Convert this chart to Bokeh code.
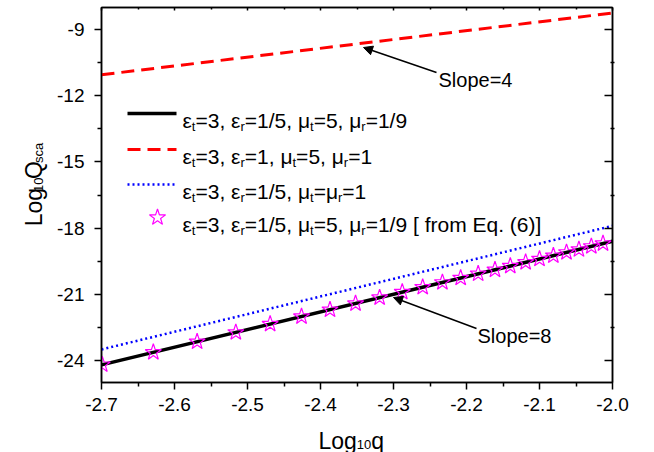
import math
from bokeh.plotting import figure
from bokeh.layouts import column, row
from bokeh.models import (LinearAxis, FixedTicker, Label, Arrow, NormalHead,
                          Range1d, NumeralTickFormatter)
from bokeh.core.properties import value
from bokeh.embed import file_html
from bokeh.resources import INLINE

# ---------------- data ----------------
x_line = [-2.7, -2.0]
y_black = [-24.2, -18.6]     # eps_t=3, eps_r=1/5, mu_t=5, mu_r=1/9
y_red = [-11.05, -8.25]      # eps_t=3, eps_r=1, mu_t=5, mu_r=1
y_blue = [-23.5, -17.9]      # eps_t=3, eps_r=1/5, mu_t=mu_r=1

star_x = [-2.699, -2.629, -2.569, -2.516, -2.469, -2.426, -2.387, -2.352,
          -2.319, -2.288, -2.260, -2.233, -2.208, -2.184, -2.161, -2.140,
          -2.119, -2.100, -2.081, -2.063, -2.046, -2.029, -2.013]
star_y = [-24.19, -23.63, -23.15, -22.73, -22.35, -22.01, -21.70, -21.42,
          -21.15, -20.90, -20.68, -20.46, -20.26, -20.07, -19.89, -19.72,
          -19.55, -19.40, -19.25, -19.10, -18.97, -18.83, -18.70]

x_ticks = [-2.7, -2.6, -2.5, -2.4, -2.3, -2.2, -2.1, -2.0]
x_minor = [-2.65, -2.55, -2.45, -2.35, -2.25, -2.15, -2.05]
y_ticks = [-24, -21, -18, -15, -12, -9]
y_minor = [-22.5, -19.5, -16.5, -13.5, -10.5]

legend_rows = [
    [("ε", 0), ("t", 1), ("=3, ε", 0), ("r", 1), ("=1/5, μ", 0), ("t", 1), ("=5, μ", 0), ("r", 1), ("=1/9", 0)],
    [("ε", 0), ("t", 1), ("=3, ε", 0), ("r", 1), ("=1, μ", 0), ("t", 1), ("=5, μ", 0), ("r", 1), ("=1", 0)],
    [("ε", 0), ("t", 1), ("=3, ε", 0), ("r", 1), ("=1/5, μ", 0), ("t", 1), ("=μ", 0), ("r", 1), ("=1", 0)],
    [("ε", 0), ("t", 1), ("=3, ε", 0), ("r", 1), ("=1/5, μ", 0), ("t", 1), ("=5, μ", 0), ("r", 1), ("=1/9 [ from Eq. (6)]", 0)],
]
xlabel_parts = [("Log", 0), ("10", 1), ("q", 0)]
ylabel_parts = [("Log", 0), ("10", 1), ("Q", 0), ("sca", 1)]
slope_labels = ["Slope=4", "Slope=8"]

# ---------------- layout helpers ----------------
FONT = "Liberation Sans"
X0, X1, Y0, Y1 = -2.7, -2.0, -25.0, -8.0
FL, FW, FT, FH = 101, 511, 7, 375   # frame position on page (px)
YW = 48                              # width of the y-title strip
PH = 420                             # height of main plot


def X(px):
    return X0 + (px - FL) * (X1 - X0) / FW


def Y(py):
    return Y1 - (py - FT) * (Y1 - Y0) / FH


W = {'0': .556, '1': .556, '2': .556, '3': .556, '4': .556, '5': .556, '6': .556,
     '7': .556, '8': .556, '9': .556, '=': .584, ',': .278, ' ': .278, '/': .278,
     '.': .278, '[': .278, ']': .278, '(': .333, ')': .333, 'f': .278, 'r': .333,
     'o': .556, 'm': .833, 'E': .667, 'q': .556, 't': .278, 'ε': .446, 'μ': .576,
     'L': .556, 'g': .556, 'Q': .778, 's': .5, 'c': .5, 'a': .556}


def tw(s, size):
    return sum(W.get(c, .556) for c in s) * size


p = figure(width=654 - YW, height=PH, output_backend="svg", toolbar_location=None,
           x_range=Range1d(X0, X1), y_range=Range1d(Y0, Y1),
           min_border_left=FL - YW, min_border_right=654 - YW - (FL - YW) - FW,
           min_border_top=FT, min_border_bottom=PH - FT - FH,
           background_fill_color="white", border_fill_color="white",
           outline_line_color="black", outline_line_width=1.5)
p.grid.visible = False

# main axes (ticks out)
for ax, ticks, minor, fmt in [(p.xaxis[0], x_ticks, x_minor, "0.0"),
                              (p.yaxis[0], y_ticks, y_minor, "0")]:
    ax.ticker = FixedTicker(ticks=ticks, minor_ticks=minor)
    ax.formatter = NumeralTickFormatter(format=fmt)
    ax.major_tick_out = 7
    ax.major_tick_in = 0
    ax.minor_tick_out = 4
    ax.minor_tick_in = 0
    ax.axis_line_width = 1.5
    ax.major_tick_line_width = 1.5
    ax.minor_tick_line_width = 1.5
    ax.major_label_text_font = FONT
    ax.major_label_text_font_size = "19px"
    ax.major_label_text_color = "black"
p.xaxis[0].major_label_standoff = 8
p.yaxis[0].major_label_standoff = 10

# mirrored axes (ticks in, no labels)
common = dict(major_label_text_font_size="0px", major_label_text_color=None,
              major_label_standoff=0, axis_line_width=1.5,
              major_tick_line_width=1.5, minor_tick_line_width=1.5)
top = LinearAxis(ticker=FixedTicker(ticks=x_ticks, minor_ticks=x_minor),
                 major_tick_in=3, major_tick_out=0, minor_tick_in=2, minor_tick_out=0,
                 **common)
right = LinearAxis(ticker=FixedTicker(ticks=y_ticks, minor_ticks=y_minor),
                   major_tick_in=8, major_tick_out=0, minor_tick_in=2, minor_tick_out=2,
                   **common)
p.add_layout(top, "above")
p.add_layout(right, "right")

# ---------------- series ----------------
p.line(x_line, y_red, line_color="#FF0000", line_width=3, line_dash="13 7")
p.line(x_line, y_blue, line_color="#0000FF", line_width=2.5, line_dash="2 3")
p.line(x_line, y_black, line_color="black", line_width=3.5)
p.scatter(star_x, star_y, marker="star", size=17, fill_alpha=0,
          line_color="#FF00FF", line_width=1.2)

# ---------------- legend ----------------
MAIN, SUB = 21, 13
row_y = [113, 149, 184, 217]
p.line([X(127), X(176)], [Y(row_y[0])] * 2, line_color="black", line_width=3.5)
p.line([X(127), X(176)], [Y(row_y[1])] * 2, line_color="#FF0000", line_width=3, line_dash="13 7")
p.line([X(127), X(176)], [Y(row_y[2])] * 2, line_color="#0000FF", line_width=2.5, line_dash="2 3")
p.scatter([X(157)], [Y(row_y[3])], marker="star", size=17, fill_alpha=0,
          line_color="#FF00FF", line_width=1.2)

mx, my, mt, sx, sy, st = [], [], [], [], [], []
for ry, segs in zip(row_y, legend_rows):
    cx = 182
    base = ry + 7
    for s, sub in segs:
        if sub:
            sx.append(X(cx)); sy.append(Y(base + 6)); st.append(s)
            cx += tw(s, SUB)
        else:
            mx.append(X(cx)); my.append(Y(base)); mt.append(s)
            cx += tw(s, MAIN)
p.text(mx, my, text=mt, text_font=value(FONT), text_font_size=f"{MAIN}px",
       text_baseline="alphabetic", text_align="left", text_color="black")
p.text(sx, sy, text=st, text_font=value(FONT), text_font_size=f"{SUB}px",
       text_baseline="alphabetic", text_align="left", text_color="black")

# ---------------- slope annotations ----------------
p.add_layout(Arrow(end=NormalHead(size=9, fill_color="black", line_color="black"),
                   x_start=X(436), y_start=Y(72), x_end=X(363), y_end=Y(47),
                   line_width=1.5, line_color="black"))
p.add_layout(Arrow(end=NormalHead(size=9, fill_color="black", line_color="black"),
                   x_start=X(476), y_start=Y(328), x_end=X(393), y_end=Y(297),
                   line_width=1.5, line_color="black"))
p.add_layout(Label(x=X(438), y=Y(79), text=slope_labels[0], text_font=FONT,
                   text_font_size="20px", text_baseline="alphabetic", text_align="left",
                   text_color="black"))
p.add_layout(Label(x=X(477), y=Y(335), text=slope_labels[1], text_font=FONT,
                   text_font_size="20px", text_baseline="alphabetic", text_align="left",
                   text_color="black"))

# ---------------- axis titles (separate strips, page pixel coordinates) ----------------
TMAIN, TSUB = 23, 13


def strip(w, h, x0, y0):
    f = figure(width=w, height=h, output_backend="svg", toolbar_location=None,
               x_range=Range1d(x0, x0 + w), y_range=Range1d(y0 + h, y0),
               x_axis_type=None, y_axis_type=None, min_border=0,
               outline_line_color=None, background_fill_color="white",
               border_fill_color="white")
    f.grid.visible = False
    return f


fy = strip(YW, PH, 0, 0)
cy = 245
for s, sub in ylabel_parts:
    size = TSUB if sub else TMAIN
    fy.text([33 + (5 if sub else 0)], [cy], text=[s], text_font=value(FONT),
            text_font_size=f"{size}px", text_baseline="alphabetic",
            text_align="left", angle=math.pi / 2, text_color="black")
    cy -= tw(s, size)

fx = strip(654, 452 - PH, 0, PH)
cx = 318
for s, sub in xlabel_parts:
    size = TSUB if sub else TMAIN
    fx.text([cx], [440 + (4 if sub else 0)], text=[s], text_font=value(FONT),
            text_font_size=f"{size}px", text_baseline="alphabetic",
            text_align="left", text_color="black")
    cx += tw(s, size)

layout = column(row(fy, p, spacing=0), fx, spacing=0)
open("out.html", "w").write(file_html(layout, INLINE))
